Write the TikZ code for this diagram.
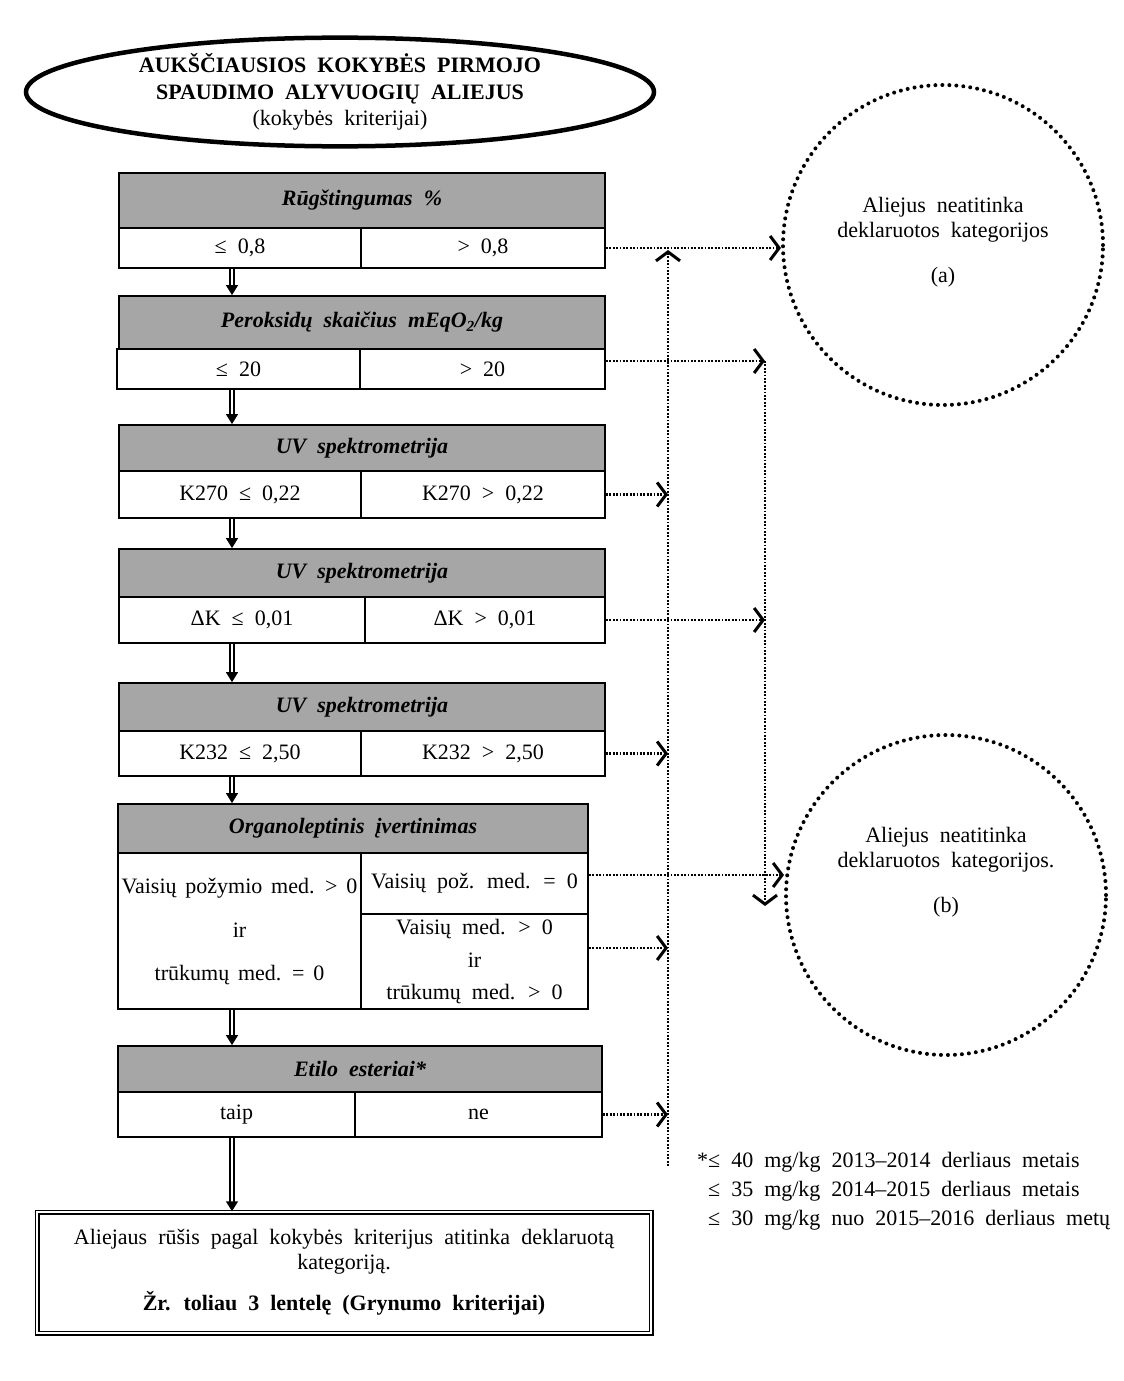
\documentclass[tikz,border=0pt]{standalone}
\usepackage{fontspec}
\setmainfont{Liberation Serif}[WordSpace=2.0]
\newfontfamily\tightfont{Liberation Serif}[WordSpace=1.6]
\usetikzlibrary{shapes.geometric,arrows.meta,calc}
\definecolor{hdr}{RGB}{166,166,166}
\begin{document}
\begin{tikzpicture}[x=1pt,y=-1pt,
  every node/.style={font=\fontsize{22}{25}\selectfont},
  hdrbox/.style={draw, line width=1.8pt, fill=hdr, inner sep=0pt, font=\fontsize{22}{25}\selectfont\bfseries\itshape},
  cell/.style={draw, line width=1.8pt, fill=white, inner sep=0pt, align=center},
  finalbox/.style={draw, double, double distance=2pt, line width=1.5pt, inner sep=0pt, align=center},
  dbl/.style={double, double distance=2.6pt, line width=1.5pt, -{Triangle[length=10pt,width=12pt]}},
  dots/.style={line width=2.2pt, dash pattern=on 1.8pt off 1.6pt, -{Straight Barb[length=9pt,width=24pt,line width=3pt]}},
  bigcirc/.style={draw, circle, minimum size=320pt, inner sep=0pt, line width=4pt, dash pattern=on 0pt off 7pt, line cap=round},
  plaintxt/.style={align=center, inner sep=0pt}
]
\useasboundingbox (0,0) rectangle (1124,1381);

% title
\node[ellipse, draw, line width=4.5pt, minimum width=628pt, minimum height=104pt, inner sep=0pt, align=center,
  font=\fontsize{22}{26.5}\selectfont] (title) at (340,92)
  {\textbf{AUKŠČIAUSIOS KOKYBĖS PIRMOJO}\\\textbf{SPAUDIMO ALYVUOGIŲ ALIEJUS}\\(kokybės kriterijai)};

% box 1
\node[hdrbox, minimum width=486pt, minimum height=55pt] (h1) at (362,200.5) {Rūgštingumas \%};
\node[cell, minimum width=242pt, minimum height=40pt] (l1) at (240,248) {≤ 0,8};
\node[cell, minimum width=244pt, minimum height=40pt] (r1) at (483,248) {> 0,8};

% box 2
\node[hdrbox, minimum width=486pt, minimum height=53pt] (h2) at (362,322.5) {Peroksidų skaičius mEqO\textsubscript{2}/kg};
\node[cell, minimum width=243pt, minimum height=40pt] (l2) at (238.5,369) {≤ 20};
\node[cell, minimum width=245pt, minimum height=40pt] (r2) at (482.5,369) {> 20};

% box 3
\node[hdrbox, minimum width=486pt, minimum height=46pt] (h3) at (362,448) {UV spektrometrija};
\node[cell, minimum width=242pt, minimum height=47pt] (l3) at (240,494.5) {K270 ≤ 0,22};
\node[cell, minimum width=244pt, minimum height=47pt] (r3) at (483,494.5) {K270 > 0,22};

% box 4
\node[hdrbox, minimum width=486pt, minimum height=48pt] (h4) at (362,573) {UV spektrometrija};
\node[cell, minimum width=246pt, minimum height=46pt] (l4) at (242,620) {ΔK ≤ 0,01};
\node[cell, minimum width=240pt, minimum height=46pt] (r4) at (485,620) {ΔK > 0,01};

% box 5
\node[hdrbox, minimum width=486pt, minimum height=48pt] (h5) at (362,707) {UV spektrometrija};
\node[cell, minimum width=242pt, minimum height=45pt] (l5) at (240,753.5) {K232 ≤ 2,50};
\node[cell, minimum width=244pt, minimum height=45pt] (r5) at (483,753.5) {K232 > 2,50};

% box 6
\node[hdrbox, minimum width=470pt, minimum height=49pt] (h6) at (353,828.5) {Organoleptinis įvertinimas};
\node[cell, minimum width=243pt, minimum height=156pt, font=\tightfont\fontsize{22}{25}\selectfont] (o0) at (239.5,931)
  {Vaisių požymio med. > 0\\[19pt]ir\\[18pt]trūkumų med. = 0};
\node[cell, minimum width=227pt, minimum height=61pt] (o1) at (474.5,883.5) {Vaisių pož. med. = 0};
\node[cell, minimum width=227pt, minimum height=95pt] (o2) at (474.5,961.5)
  {Vaisių med. > 0\\[8pt]ir\\[7pt]trūkumų med. > 0};

% box 7
\node[hdrbox, minimum width=484pt, minimum height=46pt] (h7) at (360,1069) {Etilo esteriai*};
\node[cell, minimum width=237pt, minimum height=45pt] (l7) at (236.5,1114.5) {taip};
\node[cell, minimum width=247pt, minimum height=45pt] (r7) at (478.5,1114.5) {ne};

% final box
\node[finalbox, minimum width=614pt, minimum height=121pt] (fb) at (344,1272.5)
  {Aliejaus rūšis pagal kokybės kriterijus atitinka deklaruotą\\kategoriją.\\[16pt]\textbf{Žr. toliau 3 lentelę (Grynumo kriterijai)}};

% circles
\node[bigcirc] (ca) at (943,245) {};
\node[plaintxt] (cat) at (943,242) {Aliejus neatitinka\\deklaruotos kategorijos\\[20pt](a)};
\node[bigcirc] (cb) at (946,895) {};
\node[plaintxt] (cbt) at (946,872) {Aliejus neatitinka\\deklaruotos kategorijos.\\[20pt](b)};

% footnote
\node[align=left, anchor=west, inner sep=0pt] (fn) at (697,1191)
  {*≤ 40 mg/kg 2013–2014 derliaus metais\\[4pt]\phantom{*}≤ 35 mg/kg 2014–2015 derliaus metais\\[4pt]\phantom{*}≤ 30 mg/kg nuo 2015–2016 derliaus metų};

% spine arrows
\coordinate (sp) at (232,0);
\draw[dbl] (l1.south -| sp) -- (h2.north -| sp);
\draw[dbl] (l2.south -| sp) -- (h3.north -| sp);
\draw[dbl] (l3.south -| sp) -- (h4.north -| sp);
\draw[dbl] (l4.south -| sp) -- (h5.north -| sp);
\draw[dbl] (l5.south -| sp) -- (h6.north -| sp);
\draw[dbl] (o0.south -| sp) -- (h7.north -| sp);
\draw[dbl] (l7.south -| sp) -- (fb.north -| sp);

% dotted connectors
\coordinate (vt) at (668,250);
\coordinate (vb) at (668,1166);
\coordinate (wt) at (765,361);
\coordinate (wb) at (765,906);
\draw[dots] (r1.east) -- (r1.east -| ca.west);
\draw[dots] (vb) -- (vt);
\draw[dots] ([yshift=8pt]r2.east) -- ([yshift=8pt]r2.east -| wt);
\draw[dots] (wt) -- (wb);
\draw[dots] (r3.east) -- (r3.east -| vt);
\draw[dots] (r4.east) -- (r4.east -| wt);
\draw[dots] (r5.east) -- (r5.east -| vt);
\draw[dots] ([yshift=8.5pt]o1.east) -- ([yshift=8.5pt]o1.east -| cb.west);
\draw[dots] ([yshift=13.5pt]o2.east) -- ([yshift=13.5pt]o2.east -| vt);
\draw[dots] (r7.east) -- (r7.east -| vt);
\end{tikzpicture}
\end{document}
